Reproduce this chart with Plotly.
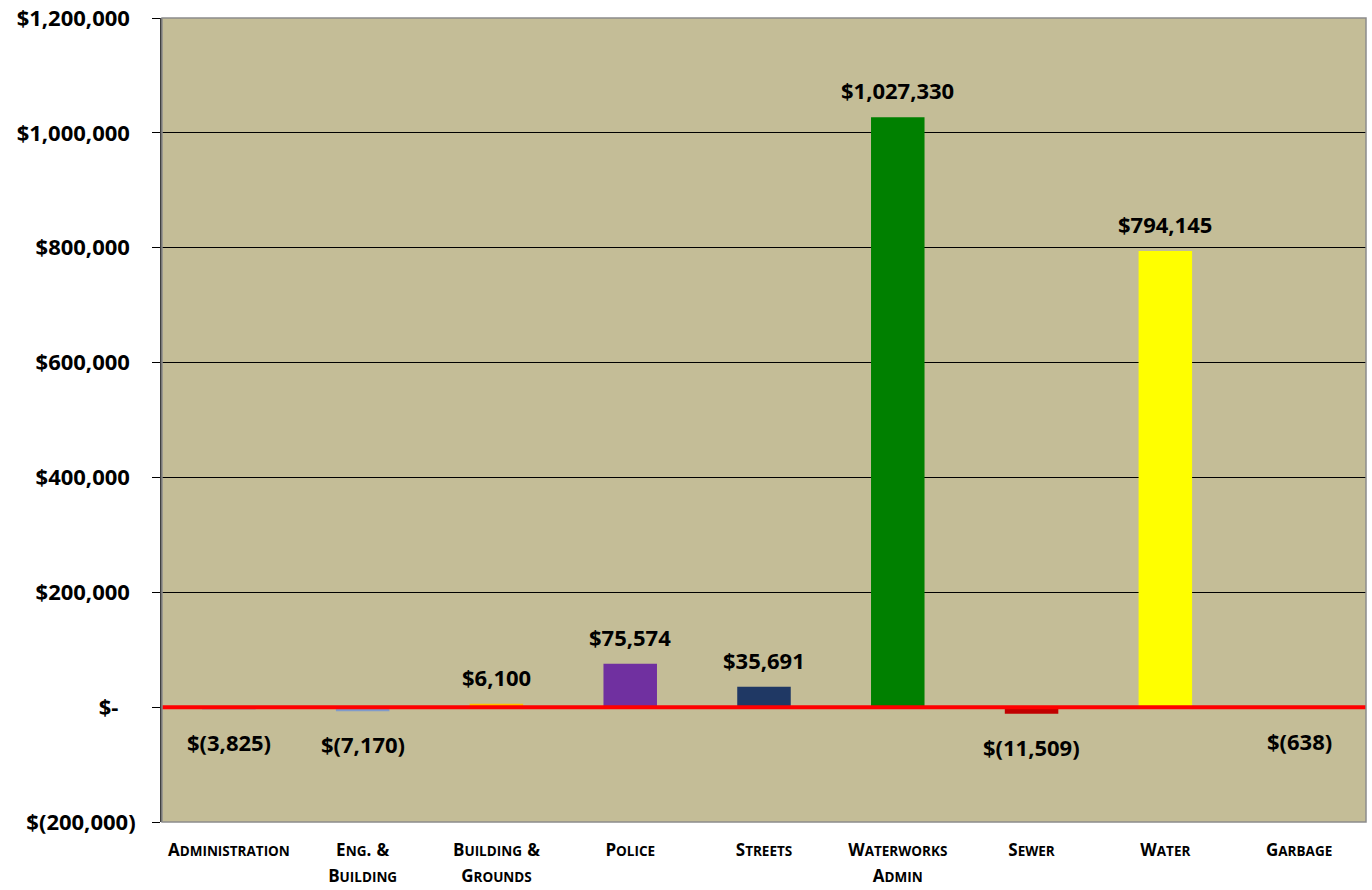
import plotly.graph_objects as go

# Department totals
departments = ["Administration", "Eng. & Building", "Building & Grounds", "Police",
               "Streets", "Waterworks Admin", "Sewer", "Water", "Garbage"]
label_lines = [["Administration"], ["Eng. &", "Building"], ["Building &", "Grounds"],
               ["Police"], ["Streets"], ["Waterworks", "Admin"], ["Sewer"], ["Water"],
               ["Garbage"]]
amounts = [-3825, -7170, 6100, 75574, 35691, 1027330, -11509, 794145, -638]
bar_colors = ["#4F81BD", "#7F9BCB", "#FFC000", "#7030A0", "#1F3864",
              "#008000", "#C00000", "#FFFF00", "#4F81BD"]

y_ticks = [-200000, 0, 200000, 400000, 600000, 800000, 1000000, 1200000]

FONT = "'Open Sans', Lato, sans-serif"
NB = "\u00a0"
CAP = 17
SMALL = 13.5


def money(v):
    if v == 0:
        return "$-"
    s = f"{abs(v):,}"
    return f"$({s})" if v < 0 else f"${s}"


def tick_money(v):
    if v == 0:
        return "$-" + NB * 3
    return money(v) if v < 0 else money(v) + NB


def small_caps_word(word):
    first, rest = word[0], word[1:]
    if not rest:
        return first.upper()
    return (f"<span style='font-size:{CAP}px'>{first.upper()}</span>"
            f"<span style='font-size:{SMALL}px'>{rest.upper()}</span>")


def small_caps(lines):
    out = []
    for line in lines:
        words = []
        for w in line.split(" "):
            if w.endswith("."):
                words.append(small_caps_word(w[:-1]) + f"<span style='font-size:{CAP}px'>.</span>")
            elif w == "&":
                words.append(f"<span style='font-size:{CAP}px'>&</span>")
            else:
                words.append(small_caps_word(w))
        out.append(" ".join(words))
    return "<br>".join(out)


fig = go.Figure()
fig.add_trace(go.Bar(
    x=departments,
    y=amounts,
    marker=dict(color=bar_colors, line=dict(width=0)),
    width=0.4,
    hoverinfo="x+y",
))

# value labels above positive bars, below negative ones
for dept, val in zip(departments, amounts):
    fig.add_annotation(
        x=dept, y=val, text=f"<b>{money(val)}</b>", showarrow=False,
        yanchor="bottom" if val >= 0 else "top",
        yshift=10 if val >= 0 else -16,
        font=dict(family=FONT, size=22, color="#000000"),
    )

# red zero reference line
fig.add_shape(type="line", xref="paper", yref="y", x0=0, x1=1, y0=0, y1=0,
              line=dict(color="#FF0000", width=4), layer="above")
# plot-area border
fig.add_shape(type="rect", xref="paper", yref="paper", x0=0, x1=1, y0=0, y1=1,
              line=dict(color="#8C8C8C", width=1.5), layer="above")

fig.update_layout(
    width=1372, height=890,
    margin=dict(l=162, r=6, t=18, b=68),
    paper_bgcolor="#FFFFFF",
    plot_bgcolor="#C4BD97",
    showlegend=False,
    font=dict(family=FONT, color="#000000"),
    bargap=0.6,
)

fig.update_xaxes(
    type="category",
    tickvals=departments,
    ticktext=[small_caps(l) for l in label_lines],
    tickfont=dict(family=FONT, size=20, color="#000000", weight="bold"),
    ticks="", showgrid=False, zeroline=False,
    showline=False,
    automargin=False,
    ticklabelstandoff=13,
)

fig.update_yaxes(
    range=[-200000, 1200000],
    tickvals=y_ticks,
    ticktext=[f"<b>{tick_money(v)}</b>" for v in y_ticks],
    tickfont=dict(family=FONT, size=22, color="#000000"),
    showgrid=True, gridcolor="#000000", gridwidth=1,
    zeroline=False,
    showline=True, linecolor="#404040", linewidth=2,
    ticks="outside", ticklen=8, tickcolor="#000000", tickwidth=1,
    automargin=False,
    ticklabelstandoff=12,
)

fig.write_html("out.html")
